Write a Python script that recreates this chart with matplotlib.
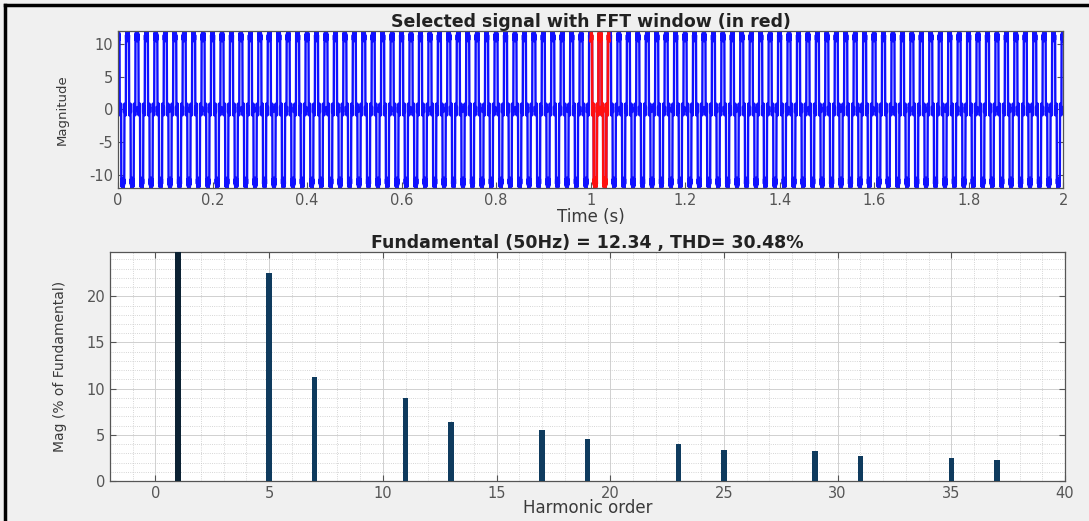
import numpy as np
import matplotlib
matplotlib.use("Agg")
import matplotlib.pyplot as plt
from matplotlib.ticker import MultipleLocator

# FFT result (percent of fundamental)
harmonic_order = [1, 5, 7, 11, 13, 17, 19, 23, 25, 29, 31, 35, 37]
mag_pct = [100, 22.5, 11.3, 9.0, 6.4, 5.5, 4.5, 4.0, 3.4, 3.2, 2.7, 2.5, 2.3]
fundamental = 12.34   # peak value of the 50 Hz component
f0 = 50.0
window_start = 1.0    # FFT window, two cycles
window_cycles = 2
t_end = 2.0

# rebuild the selected signal from its spectrum (six-pulse signs)
t = np.arange(0, t_end, 1e-4)
signal = np.zeros_like(t)
for n, p in zip(harmonic_order, mag_pct):
    sign = 1 if n % 6 == 1 else -1
    signal += sign * fundamental * p / 100 * np.cos(2 * np.pi * n * f0 * t)

win = (t >= window_start) & (t <= window_start + window_cycles / f0)

bg = "#f0f0f0"
axc = "#555555"
txt = "#3a3a3a"
plt.rcParams["font.family"] = ["DejaVu Sans"]
plt.rcParams["axes.unicode_minus"] = False

fig = plt.figure(figsize=(10.89, 5.21), dpi=100, facecolor=bg)

# frame of the screenshot
fig.add_artist(plt.Line2D([0.005, 0.005], [0, 0.99], color="black", lw=2.5, transform=fig.transFigure))
fig.add_artist(plt.Line2D([0.005, 1.0], [0.99, 0.99], color="black", lw=2.5, transform=fig.transFigure))

# ---- top: signal ----
ax1 = fig.add_axes([0.1084, 0.6392, 0.8678, 0.3013])
ax1.plot(t, signal, color="#1010ff", lw=1.7)
ax1.plot(t[win], signal[win], color="#ff1010", lw=1.9)
ax1.set_xlim(0, t_end)
ax1.set_ylim(-11.9, 11.9)
ax1.set_xticks(np.arange(0, 2.01, 0.2))
ax1.set_xticklabels(["0", "0.2", "0.4", "0.6", "0.8", "1", "1.2", "1.4", "1.6", "1.8", "2"])
ax1.set_yticks([-10, -5, 0, 5, 10])
ax1.set_title("Selected signal with FFT window (in red)", fontsize=12.5, fontweight="bold",
              color="#222222", pad=3)
ax1.set_xlabel("Time (s)", fontsize=12, color=txt, labelpad=0)
ax1.set_ylabel("Magnitude", fontsize=9.5, color=txt, labelpad=15)

# ---- bottom: spectrum ----
ax2 = fig.add_axes([0.101, 0.0768, 0.877, 0.4395])
ax2.bar(harmonic_order[:1], mag_pct[:1], width=0.25, color="#0c2233", zorder=3)
ax2.bar(harmonic_order[1:], mag_pct[1:], width=0.25, color="#0f3b5e", zorder=3)
ax2.set_xlim(-2, 40)
ax2.set_ylim(0, 24.8)
ax2.xaxis.set_major_locator(MultipleLocator(5))
ax2.yaxis.set_major_locator(MultipleLocator(5))
ax2.xaxis.set_minor_locator(MultipleLocator(1))
ax2.yaxis.set_minor_locator(MultipleLocator(1))
ax2.grid(which="major", color="#d0d0d0", lw=0.7, zorder=0)
ax2.grid(which="minor", color="#c8c8c8", lw=0.6, ls=":", zorder=0)
ax2.set_title("Fundamental (50Hz) = 12.34 , THD= 30.48%", fontsize=12.5, fontweight="bold",
              color="#222222", pad=3)
ax2.set_xlabel("Harmonic order", fontsize=12, color=txt, labelpad=-1)
ax2.set_ylabel("Mag (% of Fundamental)", fontsize=10, color=txt, labelpad=14)

for ax in (ax1, ax2):
    ax.set_facecolor("white")
    for s in ax.spines.values():
        s.set_color(axc)
        s.set_linewidth(0.9)
    ax.tick_params(which="both", direction="in", colors=axc, labelcolor="#555555", labelsize=10.5)
    ax.tick_params(which="major", length=4, top=True, right=True)
    ax.tick_params(which="minor", length=0)

fig.savefig("out.png", dpi=100, facecolor=bg)
